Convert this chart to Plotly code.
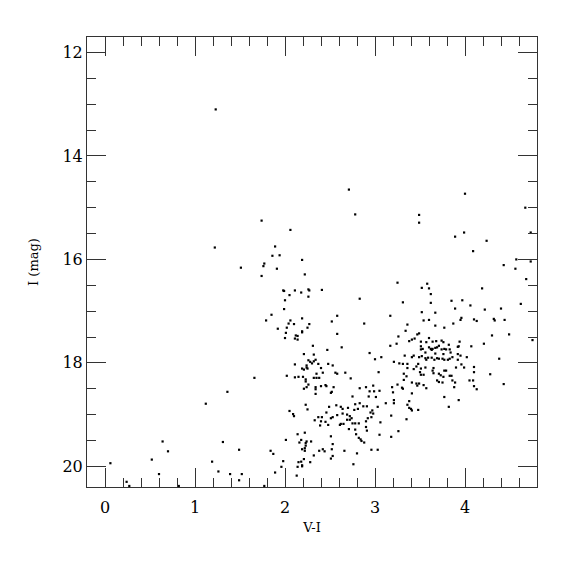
import plotly.graph_objects as go

# V-I colour and I magnitude
vi = [
 0.06,0.24,0.27,0.52,0.64,0.70,0.60,0.82,
 1.23,1.74,2.06,1.22,1.89,1.86,1.94,1.51,1.77,1.76,1.91,1.74,1.98,1.99,2.11,2.05,2.00,1.99,1.85,1.79,2.06,2.04,2.10,2.02,1.92,2.01,2.12,2.14,2.11,2.14,2.00,
 2.11,2.02,2.11,2.15,1.66,1.36,1.12,2.05,2.09,2.10,2.14,2.16,2.01,1.31,1.49,1.84,1.87,1.19,1.98,2.15,2.14,1.96,1.26,1.39,1.52,1.49,1.89,2.13,1.77,
 2.71,2.78,2.19,2.22,2.26,2.27,2.18,2.41,2.26,2.19,2.27,2.25,2.19,2.19,2.58,2.52,2.58,2.83,2.88,3.25,3.17,3.26,3.24,
 2.31,2.47,2.63,2.21,2.32,2.26,2.28,2.30,2.32,2.34,2.37,2.24,2.24,2.25,2.19,2.21,2.40,2.48,2.53,2.56,2.58,2.42,2.35,2.20,2.32,2.35,2.38,2.23,2.23,2.73,2.67,
 2.40,2.45,2.46,2.26,2.24,2.21,2.54,2.52,2.51,2.34,2.34,2.34,2.83,2.90,2.98,2.94,2.99,3.05,2.75,2.93,3.01,2.23,2.25,2.49,2.57,2.62,2.64,2.70,2.78,2.81,
 2.83,2.77,2.87,2.91,3.03,3.12,2.97,2.95,2.98,2.46,2.41,2.37,2.58,2.53,2.51,2.64,2.69,2.72,2.74,2.72,2.33,2.45,2.48,2.40,2.39,2.61,2.62,2.65,2.75,2.78,
 2.82,2.69,2.71,2.90,2.92,2.96,2.90,2.91,3.06,2.78,2.79,3.05,2.22,2.82,2.84,2.85,2.88,2.51,2.53,2.18,2.24,2.23,2.29,2.23,2.22,2.19,2.22,2.38,2.42,2.44,
 2.52,2.66,2.32,2.53,2.51,2.80,2.96,3.03,2.21,2.18,2.19,2.19,2.28,2.76,3.17,2.94,3.00,3.07,3.04,3.21,3.25,3.19,3.20,3.21,3.21,3.18,3.26,3.18,
 4.09,4.57,4.73,4.43,4.56,4.68,4.19,3.58,3.60,3.52,3.62,3.31,3.62,3.85,3.97,4.62,4.06,3.89,4.40,4.22,3.52,3.67,3.96,3.95,4.10,4.13,4.32,4.33,4.44,3.54,
 3.60,3.36,3.87,3.67,3.77,3.34,3.49,3.47,3.44,3.60,3.51,3.57,3.64,3.68,3.74,3.76,3.94,4.49,4.30,4.21,4.75,3.38,3.41,4.07,3.92,3.93,3.51,3.53,3.51,3.60,
 3.62,3.63,3.64,3.67,3.69,3.71,3.74,3.77,3.79,3.82,3.83,3.84,3.56,3.67,4.02,3.33,3.43,3.41,3.49,3.52,3.56,3.57,3.59,3.63,3.66,3.69,3.71,3.75,3.77,3.81,
 3.83,3.86,3.76,3.92,3.95,3.92,4.38,4.10,3.96,3.99,3.27,3.31,3.36,3.36,3.43,3.46,3.48,3.51,3.56,3.65,3.77,3.79,3.90,4.28,3.32,3.35,3.50,3.51,3.54,3.64,
 3.65,3.71,3.73,3.76,3.83,3.85,4.10,
 3.32,3.41,3.46,3.49,3.47,3.54,3.57,3.30,3.31,3.69,3.71,3.75,3.86,3.89,3.88,4.05,4.09,4.10,4.13,4.43,3.41,3.77,3.93,3.82,3.38,3.36,3.38,3.40,3.41,3.48,3.35,
 4.00,3.49,3.49,4.67,3.99,3.89,4.24,4.73,
]
imag = [
 19.94,20.30,20.38,19.87,19.52,19.71,20.15,20.38,
 13.10,15.25,15.43,15.77,15.75,15.93,15.92,16.16,16.08,16.13,16.18,16.32,16.60,16.61,16.60,16.69,16.79,16.96,17.07,17.18,17.18,17.24,17.25,17.32,17.34,17.42,17.47,17.48,17.53,17.55,17.52,
 18.03,18.25,18.28,18.27,18.29,18.56,18.79,18.93,18.99,19.03,19.38,19.54,19.49,19.53,19.68,19.70,19.76,19.91,19.90,19.92,20.01,20.01,20.10,20.15,20.15,20.27,20.12,20.18,20.38,
 14.65,15.13,16.01,16.29,16.58,16.60,16.64,16.59,16.72,17.14,17.25,17.32,17.39,17.41,17.09,17.20,17.44,16.76,17.24,16.45,17.09,17.49,17.63,
 17.67,17.75,17.70,17.83,17.84,17.95,17.98,18.01,17.97,17.94,18.02,18.05,18.09,18.11,18.11,18.13,18.10,18.02,18.05,18.19,18.21,18.19,18.21,18.27,18.29,18.29,18.29,18.32,18.36,18.30,18.19,
 18.45,18.43,18.45,18.42,18.47,18.50,18.47,18.56,18.58,18.47,18.51,18.60,18.49,18.47,18.44,18.55,18.55,18.54,18.65,18.65,18.66,18.81,18.90,18.85,18.82,18.85,18.89,18.87,18.80,18.89,
 18.78,18.91,18.84,18.84,18.85,18.78,18.92,18.96,18.98,18.96,19.05,19.05,19.01,19.05,19.07,18.98,19.00,19.03,19.07,19.10,19.11,19.14,19.20,19.13,19.21,19.20,19.18,19.18,19.17,19.17,
 19.17,19.10,19.28,19.13,19.07,19.05,19.24,19.31,19.15,19.29,19.38,19.39,19.35,19.45,19.48,19.51,19.54,19.42,19.57,19.49,19.52,19.55,19.52,19.60,19.65,19.67,19.70,19.70,19.67,19.71,
 19.67,19.70,19.79,19.80,19.85,19.75,19.68,19.68,19.86,19.91,19.98,20.00,19.92,19.96,17.67,17.81,17.93,17.89,18.18,17.98,18.42,18.47,18.57,18.72,18.78,19.02,19.32,19.43,
 15.84,16.00,16.04,16.11,16.18,16.38,16.56,16.47,16.56,16.55,16.67,16.83,16.84,16.80,16.79,16.86,16.89,16.95,16.95,16.97,17.02,17.03,17.13,17.17,17.16,17.19,17.15,17.18,17.17,17.18,
 17.17,17.26,17.24,17.28,17.32,17.38,17.43,17.45,17.53,17.52,17.59,17.60,17.59,17.58,17.57,17.60,17.59,17.45,17.47,17.63,17.56,17.58,17.55,17.68,17.69,17.68,17.68,17.73,17.74,17.70,
 17.73,17.75,17.73,17.71,17.70,17.67,17.74,17.73,17.74,17.65,17.74,17.80,17.80,17.82,17.89,17.86,17.86,17.89,17.89,17.87,17.91,17.94,17.90,17.90,17.94,17.91,17.92,17.92,17.94,17.94,
 17.92,17.89,17.83,17.83,17.86,17.94,17.92,18.08,18.03,18.09,18.01,18.02,18.02,18.10,18.12,18.07,18.02,18.11,18.09,18.10,18.15,18.15,18.09,18.22,18.21,18.26,18.18,18.23,18.23,18.15,
 18.20,18.21,18.24,18.27,18.25,18.25,18.18,
 18.33,18.38,18.40,18.40,18.44,18.43,18.49,18.48,18.50,18.34,18.37,18.38,18.34,18.38,18.47,18.34,18.34,18.45,18.51,18.41,18.59,18.66,18.72,18.85,18.74,18.81,18.87,18.89,18.92,18.91,19.09,
 14.73,15.14,15.29,15.00,15.48,15.56,15.64,15.48,
]

x_ticks = [0, 1, 2, 3, 4]
y_ticks = [12, 14, 16, 18, 20]

fig = go.Figure()
fig.add_trace(go.Scatter(
    x=vi, y=imag, mode="markers",
    marker=dict(symbol="square", size=2.2, color="black", line=dict(width=0)),
    hoverinfo="x+y", showlegend=False,
))

axis_common = dict(
    showline=True, linecolor="#333", linewidth=1, mirror="ticks",
    ticks="inside", tickcolor="#333", tickwidth=1, ticklen=19,
    showgrid=False, zeroline=False,
    tickfont=dict(family="DejaVu Serif", size=16, color="black"),
)

fig.update_xaxes(
    range=[-0.2, 4.8], tickmode="array", tickvals=x_ticks,
    ticktext=[str(v) for v in x_ticks], ticklabelstandoff=6,
    minor=dict(dtick=0.2, tick0=0, ticks="inside", ticklen=9, tickcolor="#333", tickwidth=1, showgrid=False),
    title=dict(text="V-I", font=dict(family="DejaVu Serif", size=13, color="black"), standoff=6),
    **axis_common,
)
fig.update_yaxes(
    range=[20.4, 11.7], tickmode="array", tickvals=y_ticks,
    ticktext=[str(v) for v in y_ticks],
    minor=dict(dtick=0.5, tick0=0, ticks="inside", ticklen=9, tickcolor="#333", tickwidth=1, showgrid=False),
    title=dict(text="I (mag)", font=dict(family="DejaVu Serif", size=13, color="black"), standoff=20),
    **axis_common,
)

fig.update_layout(
    width=567, height=567,
    margin=dict(l=79, r=38, t=29, b=88, autoexpand=False),
    paper_bgcolor="white", plot_bgcolor="white",
)

fig.write_html("out.html")
